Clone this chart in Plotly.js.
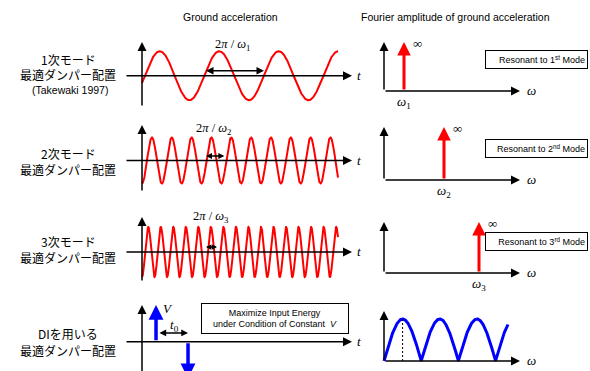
<!DOCTYPE html>
<html><head><meta charset="utf-8">
<script src="https://cdn.plot.ly/plotly-3.0.1.min.js"></script>
<style>html,body{margin:0;padding:0;background:#fff}</style>
</head><body><div id="chart" style="width:590px;height:371px"></div>
<script>
// ---------------- data ----------------
const columnTitles = ["Ground acceleration", "Fourier amplitude of ground acceleration"];
const rowLabels = [["1次モード", "最適ダンパー配置"], ["2次モード", "最適ダンパー配置"], ["3次モード", "最適ダンパー配置"], ["DIを用いる", "最適ダンパー配置"]];
const rowNote = "(Takewaki 1997)";
const modeOmega = [1, 3, 4.75];            // ω1, ω2, ω3 (ω1 = 1)
const modePhase = [-0.3, -1.5708, -1.5708];
const modeSub = ["1", "2", "3"];
const modeOrdinal = ["1<sup>st</sup>", "2<sup>nd</sup>", "3<sup>rd</sup>"];
const waveDuration = 20.7;                 // length of the drawn time history
const periodArrowStart = 6.6;              // t where the 2π/ω arrow begins
const diTimes = [1.48, 4.86];              // double impulse times
const diValues = [1, -1];                  // +V, -V
const diOmegaMax = 6.2;
const boxText = "Maximize Input Energy<br>under Condition of Constant  <i>V</i>";

// ---------------- geometry ----------------
const W = 590, H = 371;
const L = {px0: 118, px1: 368, origin: 142, scale: 9.47};
const R = {px0: 375, px1: 548, origin: 384, scale: 20};
const rowBox = [[33, 113], [117, 199], [208, 291], [295, 371]];
const leftAxisPx = [75.7, 160.5, 252, 341.7];
const leftUnitPx = [24.5, 23, 25, 36.7];
const leftTopPx = [42, 125, 217, 305];
const leftBotPx = [107, 192, 282, 385];
const rightAxisPx = [91, 180, 273, 361];
const rightUnitPx = [49, 53, 51, 42];
const rightTopPx = [42, 127, 222, 311];

const tL = px => (px - L.origin) / L.scale;
const wR = px => (px - R.origin) / R.scale;
const vL = (r, py) => (leftAxisPx[r] - py) / leftUnitPx[r];
const vR = (r, py) => (rightAxisPx[r] - py) / rightUnitPx[r];

const layout = {
  width: W, height: H, margin: {l: 0, r: 0, t: 0, b: 0},
  paper_bgcolor: "#fff", plot_bgcolor: "rgba(0,0,0,0)",
  showlegend: false, annotations: []
};
const ax = (n, letter) => (n === 1 ? letter : letter + n);
const axName = (n, letter) => (n === 1 ? letter + "axis" : letter + "axis" + n);

for (let r = 0; r < 4; r++) {
  const yd = [1 - rowBox[r][1] / H, 1 - rowBox[r][0] / H];
  const nl = 2 * r + 1, nr = 2 * r + 2;
  layout[axName(nl, "x")] = {domain: [L.px0 / W, L.px1 / W], range: [tL(L.px0), tL(L.px1)], visible: false, anchor: ax(nl, "y")};
  layout[axName(nl, "y")] = {domain: yd, range: [vL(r, rowBox[r][1]), vL(r, rowBox[r][0])], visible: false, anchor: ax(nl, "x")};
  layout[axName(nr, "x")] = {domain: [R.px0 / W, R.px1 / W], range: [wR(R.px0), wR(R.px1)], visible: false, anchor: ax(nr, "y")};
  layout[axName(nr, "y")] = {domain: yd, range: [vR(r, rowBox[r][1]), vR(r, rowBox[r][0])], visible: false, anchor: ax(nr, "x")};
}

function arrow(n, xh, yh, xt, yt, color, width, size, extra) {
  const a = Object.assign({
    xref: ax(n, "x"), yref: ax(n, "y"), axref: ax(n, "x"), ayref: ax(n, "y"),
    x: xh, y: yh, ax: xt, ay: yt, text: "", showarrow: true,
    arrowhead: 2, arrowsize: size, arrowwidth: width, arrowcolor: color, standoff: 0
  }, extra || {});
  layout.annotations.push(a);
}
function txt(px, py, text, font, extra) {
  layout.annotations.push(Object.assign({
    xref: "paper", yref: "paper", x: px / W, y: 1 - py / H, text: text,
    showarrow: false, font: font, xanchor: "center", yanchor: "middle"
  }, extra || {}));
}
const SANS = "Liberation Sans, Arial, sans-serif";
const SERIF = "Liberation Serif, Times New Roman, serif";
const CJK = "Noto Sans CJK JP, sans-serif";

const traces = [];

// axes
for (let r = 0; r < 4; r++) {
  const nl = 2 * r + 1, nr = 2 * r + 2;
  arrow(nl, tL(352), 0, tL(125), 0, "#000", 1.5, 1.2);
  arrow(nl, 0, vL(r, leftTopPx[r]), 0, vL(r, leftBotPx[r]), "#000", 1.5, 1.2);
  arrow(nr, wR(520), 0, 0, 0, "#000", 1.5, 1.2);
  arrow(nr, 0, vR(r, rightTopPx[r]), 0, 0, "#000", 1.5, 1.2);
  txt(359, leftAxisPx[r], "<i>t</i>", {family: SERIF, size: 13, color: "#000"});
  txt(531, rightAxisPx[r] - 1, "<i>ω</i>", {family: SERIF, size: 13, color: "#000"});
}

// sine histories and spectra for modes
const periodHead = [1.0, 0.8, 0.7];
for (let i = 0; i < modeOmega.length; i++) {
  const xs = [], ys = [];
  for (let t = 0; t <= waveDuration + 1e-9; t += 0.02) { xs.push(t); ys.push(Math.sin(modeOmega[i] * t + modePhase[i])); }
  traces.push({x: xs, y: ys, xaxis: ax(2 * i + 1, "x"), yaxis: ax(2 * i + 1, "y"), mode: "lines",
    line: {color: "#ff0000", width: 2}, hoverinfo: "skip"});
  // period arrow
  const T = 2 * Math.PI / modeOmega[i];
  arrow(2 * i + 1, periodArrowStart + T, 0.2, periodArrowStart, 0.2, "#000", 1.5, periodHead[i],
    {arrowside: "end+start", startarrowhead: 2, startarrowsize: periodHead[i]});
  // spectrum spike
  arrow(2 * i + 2, modeOmega[i], 1, modeOmega[i], 0, "#ff0000", 3, 0.9);
}
// period labels
txt(232, 45, "2<i>π</i> / <i>ω</i><sub>" + modeSub[0] + "</sub>", {family: SERIF, size: 12.5, color: "#000"});
txt(213, 129, "2<i>π</i> / <i>ω</i><sub>" + modeSub[1] + "</sub>", {family: SERIF, size: 12.5, color: "#000"});
txt(211, 217, "2<i>π</i> / <i>ω</i><sub>" + modeSub[2] + "</sub>", {family: SERIF, size: 12.5, color: "#000"});
// ∞ and ω_i labels
for (let i = 0; i < 3; i++) {
  const px = R.origin + modeOmega[i] * R.scale;
  txt(px + 13, rightTopPx[i] + 1, "∞", {family: SERIF, size: 13, color: "#000"});
  txt(px, rightAxisPx[i] + 11, "<i>ω</i><sub>" + modeSub[i] + "</sub>", {family: SERIF, size: 13, color: "#000"});
}
// boxes
const boxY = [60, 148, 241.5];
for (let i = 0; i < 3; i++) {
  txt(536.5, boxY[i], "Resonant to " + modeOrdinal[i] + " Mode", {family: SANS, size: 9, color: "#000"},
    {bordercolor: "#000", borderwidth: 1, borderpad: 2, bgcolor: "#fff", width: 97, height: 13, align: "right"});
}

// double impulse
for (let k = 0; k < diTimes.length; k++) {
  arrow(7, diTimes[k], diValues[k], diTimes[k], 0, "#0000ff", 3.5, 0.85);
}
arrow(7, diTimes[1], 0.24, diTimes[0] + 0.2, 0.24, "#000", 1.5, 0.9,
  {arrowside: "end+start", startarrowhead: 2, startarrowsize: 0.9});
txt(168, 308, "<i>V</i>", {family: SERIF, size: 13, color: "#000"});
txt(174, 325, "<i>t</i><sub>0</sub>", {family: SERIF, size: 13, color: "#000"});
txt(275, 318.5, boxText, {family: SANS, size: 9, color: "#000"},
  {bordercolor: "#000", borderwidth: 1, borderpad: 2, bgcolor: "#fff", width: 142, height: 25});

// DI Fourier amplitude
const t0 = diTimes[1] - diTimes[0];
const wx = [], wy = [];
for (let w = 0; w <= diOmegaMax + 1e-9; w += 0.01) { wx.push(w); wy.push(Math.abs(Math.sin(w * t0 / 2))); }
traces.push({x: wx, y: wy, xaxis: "x8", yaxis: "y8", mode: "lines", line: {color: "#0000ff", width: 3}, hoverinfo: "skip"});
const wPeak = Math.PI / t0;
traces.push({x: [wPeak, wPeak], y: [0, 1], xaxis: "x8", yaxis: "y8", mode: "lines",
  line: {color: "#000", width: 1, dash: "2px,2px"}, hoverinfo: "skip"});
txt(R.origin + wPeak * R.scale, 366, "<i>π</i> / <i>t</i><sub>0</sub>", {family: SERIF, size: 13, color: "#000"}, {yanchor: "top"});

// titles and row labels
txt(230, 17, columnTitles[0], {family: SANS, size: 10.5, color: "#000"});
txt(455, 17, columnTitles[1], {family: SANS, size: 10.5, color: "#000"});
const labelY = [[59, 74], [153, 169], [241, 257], [333, 350]];
for (let r = 0; r < 4; r++) {
  txt(68, labelY[r][0], rowLabels[r][0], {family: CJK, size: 12, color: "#000"});
  txt(68, labelY[r][1], rowLabels[r][1], {family: CJK, size: 12, color: "#000"});
}
txt(70, 90, rowNote, {family: SANS, size: 10.5, color: "#000"});

Plotly.newPlot("chart", traces, layout, {staticPlot: true, displayModeBar: false});
</script></body></html>
